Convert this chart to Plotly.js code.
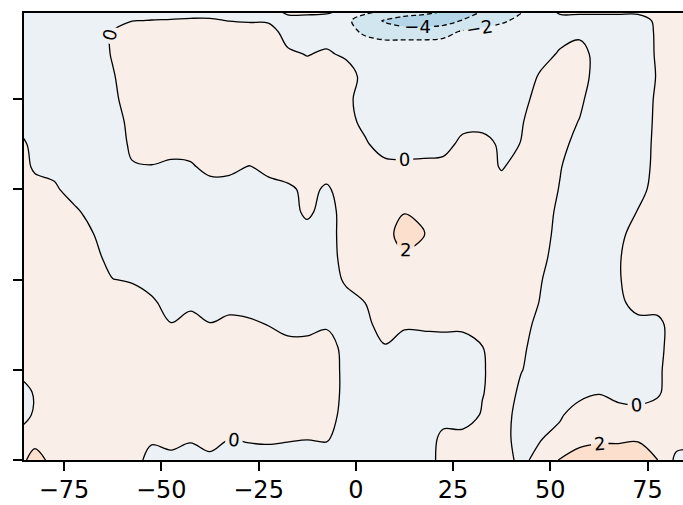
<!DOCTYPE html>
<html><head><meta charset="utf-8">
<script src="https://cdn.plot.ly/plotly-3.0.1.min.js"></script>
<style>html,body{margin:0;padding:0;background:#fff;}#chart{width:683px;height:505px;}</style>
</head><body><div id="chart"></div>
<script>
// latitude grid (deg)
const lats = [-87.5,-82.5,-77.5,-72.5,-67.5,-62.5,-57.5,-52.5,-47.5,-42.5,-37.5,-32.5,-27.5,-22.5,-17.5,-12.5,-7.5,-2.5,
              2.5,7.5,12.5,17.5,22.5,27.5,32.5,37.5,42.5,47.5,52.5,57.5,62.5,67.5,72.5,77.5,82.5,87.5];
// vertical coordinate (axis units)
const levels = [0,0.25,0.5,0.75,1.0,1.25,1.5,1.75,2.0,2.25,2.5,2.75,3.0,3.25,3.5,3.75,4.0,4.25,4.5,4.75,4.87,5.0];
// field values, one row per level (bottom to top)
const field = [
 [1.2,2.6,1.5,1,1,1,1.1,-0.9,-1,-1,-1,-1,-1,-1,-1,-1,-1,-1,-1,-1,-1,-1.2,0.8,1,1,1.2,-0.7,1.0,2.1,2.6,2.8,2.8,2.8,2.05,-0.5,-0.5],
 [0.5,1.4,1,1,1,1,1,0.45,1.27,0.32,1.7,0.1,0.32,0.45,0.26,0.12,0.25,-1,-1,-1,-1,-1.4,0.6,1,1,0.9,-1.0,-0.2,1.0,1.5,1.7,1.7,1.8,1.2,0.8,0.6],
 [-1.3,0.3,1,1,1,1,1,1,1,1,1,1,1,1,1,1,1.1,-0.9,-1,-1,-1,-1,-1,-1.7,0.3,1.05,-0.95,-1,-0.4,1.6,1.0,1.2,0.8,1.2,1.2,1.2],
 [-1.2,0.2,1,1,1,1,1,1,1,1,1,1,1,1,1,1,1.33,-0.67,-1,-1,-1,-1,-1,-1,-0.17,1.5,-0.52,-1,-1,-1,-0.1,-1,-1,-0.4,1.6,1.2],
 [0.3,1,1,1,1,1,1,1,1,1,1,1,1,1,1,1,1.33,-0.67,-1,-1,-1,-1,-1,-1,-0.2,1,0.1,-1,-1,-1,-1,-1,-1,-0.5,1.5,1.2],
 [1,1,1,1,1,1,1,1,1,1,1,1,1,1,1,1,1.1,-0.8,-1,-0.2,-1,-1,-1,-1,-0.05,1,0.6,-1.4,-1,-1,-1,-1,-1,-0.7,1.3,1.2],
 [1,1,1,1,1,1,1,1,0.1,1.5,0.1,0.76,0.43,-0.05,-1,-1,-0.3,-1,-0.72,1.28,0.3,0.4,0.5,0.5,1,1,1.1,-0.9,-1,-1,-1,-1,-1,-0.7,1.3,1.2],
 [1,1,1,1,1,1,1,0.4,-1,-1,-1,-1,-1,-1,-1,-1,-1,-1,0.05,1,1,1,1,1,1,1,1,-0.1,-1,-1,-1,-0.74,1.26,1,1.2,1.2],
 [1,1,1,1,1,0.05,-0.2,-1,-1,-1,-1,-1,-1,-1,-1,-1,-1.54,0.46,1,1,1,1,1,1,1,1,1,0.1,-1,-1,-1,-0.2,1.2,1,1,1],
 [1,1,1,1,0.88,-1.12,-1,-1,-1,-1,-1,-1,-1,-1,-1,-1,-1.12,0.88,1,1.3,1.8,1.6,1.1,1,1,1,1,0.74,-1.26,-1,-1,-0.2,1.2,1,1,1],
 [1,1,1,1,0.05,-1,-1,-1,-1,-1,-1,-1,-1,-1,-1,-1,-1.02,0.98,1,1.59,2.5,2.05,1,1,1,1,1,1.1,-0.9,-1,-1,-0.74,1.26,1,1,1],
 [1,1,1,0.72,-1.28,-1,-1,-1,-1,-1,-1,-1,-1,-1,-1,0.5,-1,1,1,1.3,1.95,1.8,1.2,1,1,1,1,1.36,-0.64,-1,-1,-1,0.1,1,1,1],
 [1,1,0.56,-1.44,-1,-1,-1,-1,-1,-1,-1,-1,-1,-1,-0.5,0.6,-0.3,1,1,1,1.3,1.2,1,1,1,1,1,1,-0.1,-1,-1,-1,-0.94,1.06,1,1],
 [1.58,-0.42,-1,-1,-1,-1,-0.2,-0.1,-0.5,-0.3,0.7,0.6,-0.1,0.8,1.3,1,1,1,1,1,0.5,0.6,1,1,1,-0.2,1,1,0.1,-1,-1,-1,-1.26,0.74,1,1],
 [1.18,-0.82,-1,-1,-1,-1.5,0.5,1,1,1,1,1,1,1,1,1,1,1,0.4,-1.6,-1,-1,-1.16,0.84,1,-0.5,0.05,1,0.9,-1.1,-1,-1,-1.36,0.64,1,1],
 [-0.5,-1,-1,-1,-1,-1.18,0.82,1,1,1,1,1,1,1,1,1,1,1.1,-0.9,-1,-1,-1,-1,-1,-1,-1,-0.15,1,1,-0.1,-1,-1,-1.48,0.52,1,1],
 [-1,-1,-1,-1,-1,-0.62,1.38,1,1,1,1,1,1,1,1,1,1,0.72,-1.28,-1,-1,-1,-1,-1,-1,-1,-0.9,1.1,1,0.5,-1.5,-1,-1.58,0.42,1,1],
 [-1,-1,-1,-1,-1,-0.15,1,1,1,1,1,1,1,1,1,1,1,1.16,-0.84,-1,-1,-1,-1,-1,-1,-1,-1.64,0.36,1,1,-1,-1,-1,0.1,1,1],
 [-1,-1,-1,-1,-1,0.15,1,1,1,1,1,1,1,1,0.4,-0.1,0.3,-0.4,-0.4,-0.3,-0.3,-0.3,-0.4,-0.6,-0.8,-1,-1,-1,0.3,1,-1,-1,-1,0.2,1,1],
 [-1,-1,-1,-1,-1,0.15,1,1,1,1,1,1,1,1,-1,-1,-1,-1.3,-2.4,-3.0,-3.0,-3.0,-2.7,-1.8,-1.4,-1.2,-1.0,-1,-1,-0.6,-1,-1,-1,0.25,1,1],
 [-1,-1,-1,-1,-1,-0.8,-0.05,0.05,0.1,0.2,0.2,-0.05,-0.2,-0.3,-0.6,-0.6,-0.8,-1.6,-3.0,-4.2,-5.2,-5.3,-5.0,-3.9,-3.0,-2.3,-1.5,-0.9,-0.7,-0.7,-0.7,-0.7,-0.7,0.3,1,1],
 [-1,-1,-1,-1,-1,-1,-0.8,-0.8,-0.8,-0.8,-0.8,-0.8,-0.8,-0.6,0.6,0.6,0.6,-0.2,-1.2,-1.5,-2.0,-2.8,-3.8,-4.8,-4.2,-3.0,-2.3,-1,0.6,0.6,0.6,0.6,0.6,1,1,1]
];
const contourStart = -6, contourEnd = 4, contourStep = 2;
const bandColors = ['#9ecae1','#b4d5e8','#d2e6f0','#ebf1f5','#f9eee8','#fcdfcd','#f7c1a2'];
const xTickVals = [-75,-50,-25,0,25,50,75];
const yTickVals = [0,1,2,3,4];
const xRange = [-85.3, 84.1];
const yRange = [0, 4.955];

const colorscale = bandColors.map((c,i)=>[i/(bandColors.length-1), c]);
const labelFont = {family:'DejaVu Sans', size:18, color:'black'};

const fillTrace = {
  type:'contour', x:lats, y:levels, z:field, autocontour:false,
  contours:{start:contourStart, end:contourEnd, size:contourStep, coloring:'fill', showlines:false},
  colorscale:colorscale, showscale:false, line:{width:0, smoothing:1}, hoverinfo:'skip'
};
const negLines = {
  type:'contour', x:lats, y:levels, z:field, autocontour:false,
  contours:{start:-4, end:-2, size:contourStep, coloring:'none', showlines:true, showlabels:true, labelfont:labelFont},
  line:{color:'black', width:1.3, dash:'5px,3px', smoothing:1}, showscale:false, hoverinfo:'skip'
};
const posLines = {
  type:'contour', x:lats, y:levels, z:field, autocontour:false,
  contours:{start:0, end:2, size:contourStep, coloring:'none', showlines:true, showlabels:true, labelfont:labelFont},
  line:{color:'black', width:1.3, smoothing:1}, showscale:false, hoverinfo:'skip'
};

const layout = {
  width:683, height:505, margin:{l:24, r:0, t:13, b:45},
  paper_bgcolor:'#ffffff', plot_bgcolor:'#ffffff', showlegend:false,
  font:{family:'DejaVu Sans', color:'black'},
  xaxis:{range:xRange, tickvals:xTickVals, ticks:'outside', ticklen:9, tickwidth:2, tickcolor:'black',
         showline:true, linewidth:2, linecolor:'black', mirror:true, showgrid:false, zeroline:false,
         ticklabelstandoff:-2,
         tickfont:{family:'DejaVu Sans', size:24, color:'black'}},
  yaxis:{range:yRange, tickvals:yTickVals, ticks:'outside', ticklen:9, tickwidth:2, tickcolor:'black',
         showline:true, linewidth:2, linecolor:'black', mirror:false, showgrid:false, zeroline:false,
         showticklabels:false}
};
Plotly.newPlot('chart', [fillTrace, negLines, posLines], layout, {staticPlot:true, displayModeBar:false});
</script>
</body></html>
